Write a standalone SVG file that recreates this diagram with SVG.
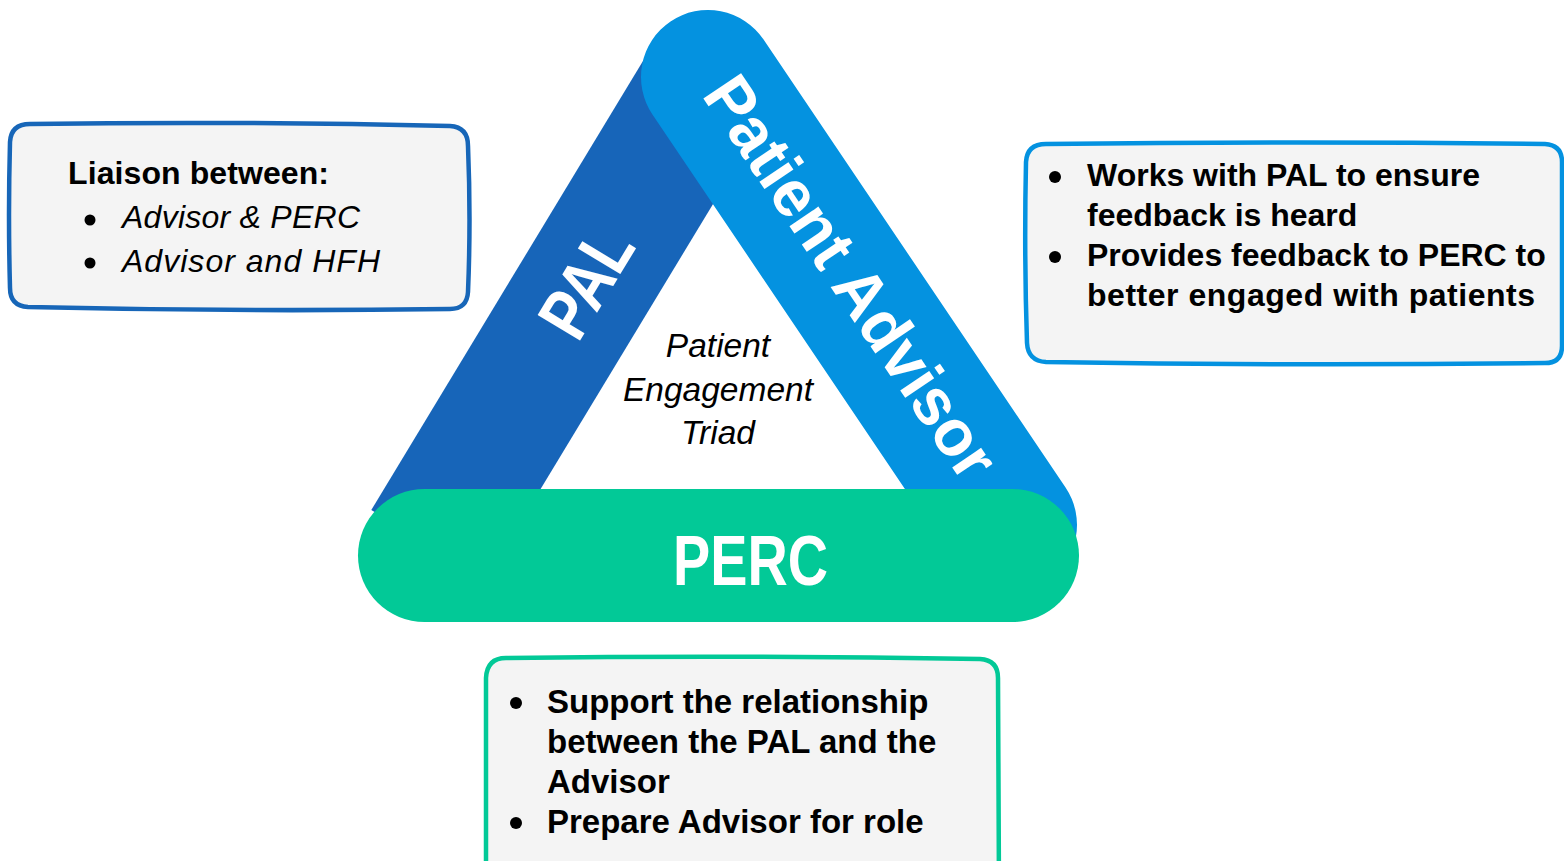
<svg xmlns="http://www.w3.org/2000/svg" width="1564" height="861" viewBox="0 0 1564 861">
<style>
.box{fill:#F4F4F4;stroke-width:4.5;stroke-linejoin:round}
.body{font-family:"Liberation Sans",Arial,sans-serif;font-size:32px;fill:#000}
.b{font-weight:bold}
.it{font-style:italic}
.lg{font-size:33px}
.tri{font-size:33.5px}
.band{font-family:"Liberation Sans",Arial,sans-serif;font-weight:bold;fill:#fff}
.dot{fill:#000}
</style>
<rect width="1564" height="861" fill="#fff"/>

<g id="pal">
  <path d="M 644.8,58 L 759.4,127.4 L 485.9,579.4 L 371.3,510 Z" fill="#1765B9"/>
</g>
<g id="patient-advisor">
  <line x1="708" y1="77" x2="1010" y2="525" stroke="#0492E0" stroke-width="134" stroke-linecap="round"/>
</g>
<g id="perc">
  <rect x="358" y="489" width="721" height="133" rx="66.5" fill="#02C997"/>
</g>

<g id="pal-label">
  <text class="band" font-size="72" textLength="114" lengthAdjust="spacingAndGlyphs" transform="translate(578,344) rotate(-58.8)">PAL</text>
</g>
<g id="advisor-label">
  <text class="band" font-size="66" textLength="470" lengthAdjust="spacingAndGlyphs" transform="translate(701,95) rotate(56)">Patient Advisor</text>
</g>
<g id="perc-label">
  <text class="band" font-size="70" x="673" y="585" textLength="155" lengthAdjust="spacingAndGlyphs">PERC</text>
</g>

<g id="triad-label">
  <text class="body it tri" text-anchor="middle" x="718" y="357">Patient</text>
  <text class="body it tri" text-anchor="middle" x="718" y="401">Engagement</text>
  <text class="body it tri" text-anchor="middle" x="718" y="444">Triad</text>
</g>

<g id="pal-box">
  <path class="box" stroke="#1766B8" d="M 30,124 Q 240,121 450,126 Q 468,127 468,146 Q 471,220 468,292 Q 467,309 450,309 Q 240,312 28,307 Q 10,306 10,288 Q 8,215 10,142 Q 11,124 30,124 Z"/>
  <text class="body b" x="68" y="184" textLength="261">Liaison between:</text>
  <circle class="dot" cx="90" cy="220" r="5.5"/>
  <text class="body it" x="122" y="228" textLength="238">Advisor &amp; PERC</text>
  <circle class="dot" cx="90" cy="263" r="5.5"/>
  <text class="body it" x="122" y="272" textLength="258">Advisor and HFH</text>
</g>

<g id="advisor-box">
  <path class="box" stroke="#0492E0" d="M 1046,144 Q 1300,141 1545,144 Q 1562,145 1562,162 L 1562,346 Q 1562,363 1545,363 Q 1290,366 1046,362 Q 1028,361 1027,343 Q 1024,254 1026,162 Q 1027,144 1046,144 Z"/>
  <circle class="dot" cx="1055" cy="177" r="6"/>
  <text class="body b" x="1087" y="186">Works with PAL to ensure</text>
  <text class="body b" x="1087" y="226">feedback is heard</text>
  <circle class="dot" cx="1055" cy="257" r="6"/>
  <text class="body b" x="1087" y="266">Provides feedback to PERC to</text>
  <text class="body b" x="1087" y="306" textLength="448">better engaged with patients</text>
</g>

<g id="perc-box">
  <path class="box" stroke="#02C997" d="M 506,658 Q 740,655 980,659 Q 998,660 998,678 L 999,890 L 486,890 L 486,678 Q 487,658 506,658 Z"/>
  <circle class="dot" cx="516" cy="703" r="6"/>
  <text class="body b lg" x="547" y="713">Support the relationship</text>
  <text class="body b lg" x="547" y="753">between the PAL and the</text>
  <text class="body b lg" x="547" y="793">Advisor</text>
  <circle class="dot" cx="516" cy="823" r="6"/>
  <text class="body b lg" x="547" y="833">Prepare Advisor for role</text>
</g>
</svg>
